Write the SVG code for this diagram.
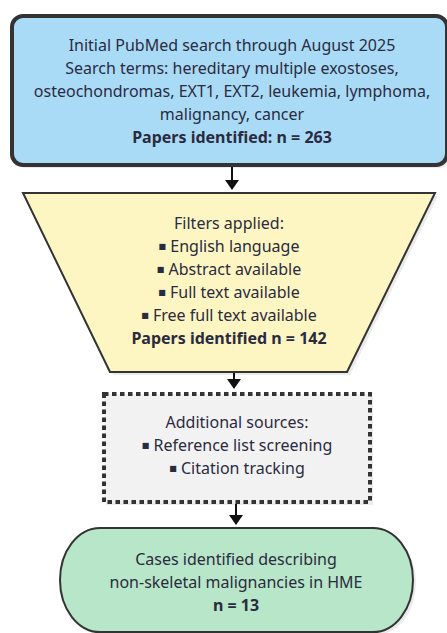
<svg xmlns="http://www.w3.org/2000/svg" width="447" height="633" viewBox="0 0 447 633">
  <defs>
    <style>
      text { font-family: "Noto Sans", "DejaVu Sans", sans-serif; font-size: 16px; fill: #2b2b3f; text-anchor: middle; }
      .b { font-weight: bold; }
      .bul { font-size: 8px; }
      .conn { stroke: #111; stroke-width: 2; fill: none; }
      .shadow { fill: #000; opacity: 0.08; }
    </style>
    <marker id="arr" viewBox="0 0 10 14" refX="9" refY="7" markerWidth="10" markerHeight="14" markerUnits="userSpaceOnUse" orient="auto">
      <path d="M0,0 L10,7 L0,14 z" fill="#111"/>
    </marker>
  </defs>
  <rect width="447" height="633" fill="#fff"/>

  <g id="node-search">
    <rect class="shadow" x="15" y="19" width="435" height="149" rx="11"/>
    <rect x="12" y="16" width="435" height="149" rx="11" fill="#a9dbf6" stroke="#333" stroke-width="4"/>
    <text x="232" y="51">Initial PubMed search through August 2025</text>
    <text x="232" y="74">Search terms: hereditary multiple exostoses,</text>
    <text x="232" y="97">osteochondromas, EXT1, EXT2, leukemia, lymphoma,</text>
    <text x="232" y="120">malignancy, cancer</text>
    <text x="232" y="143" class="b">Papers identified: n = 263</text>
  </g>

  <g id="node-filters">
    <polygon class="shadow" points="26,196 438,196 350,375 113,375"/>
    <polygon points="23,193 435,193 347,372 110,372" fill="#fdf6c3" stroke="#333" stroke-width="2"/>
    <text x="229" y="229">Filters applied:</text>
    <text x="229" y="252"><tspan class="bul" dy="-3">■</tspan><tspan dy="3"> English language</tspan></text>
    <text x="229" y="275"><tspan class="bul" dy="-3">■</tspan><tspan dy="3"> Abstract available</tspan></text>
    <text x="229" y="298"><tspan class="bul" dy="-3">■</tspan><tspan dy="3"> Full text available</tspan></text>
    <text x="229" y="321"><tspan class="bul" dy="-3">■</tspan><tspan dy="3"> Free full text available</tspan></text>
    <text x="229" y="344" class="b">Papers identified n = 142</text>
  </g>

  <g id="node-additional">
    <rect class="shadow" x="106" y="396" width="267" height="109"/>
    <rect x="104" y="394" width="266" height="108" fill="#f2f2f2" stroke="#333" stroke-width="4" stroke-dasharray="4.5 3.5"/>
    <text x="237" y="428">Additional sources:</text>
    <text x="237" y="451"><tspan class="bul" dy="-3">■</tspan><tspan dy="3"> Reference list screening</tspan></text>
    <text x="237" y="474"><tspan class="bul" dy="-3">■</tspan><tspan dy="3"> Citation tracking</tspan></text>
  </g>

  <g id="node-cases">
    <rect class="shadow" x="63" y="531" width="353" height="104" rx="40" ry="52"/>
    <rect x="60" y="528" width="353" height="104" rx="40" ry="52" fill="#b8e6c8" stroke="#333" stroke-width="2"/>
    <text x="236" y="565">Cases identified describing</text>
    <text x="236" y="588">non-skeletal malignancies in HME</text>
    <text x="236" y="611" class="b">n = 13</text>
  </g>

  <g id="connectors">
    <line class="conn" x1="232" y1="167" x2="232" y2="189" marker-end="url(#arr)"/>
    <line class="conn" x1="234" y1="373" x2="234" y2="388" marker-end="url(#arr)"/>
    <line class="conn" x1="236" y1="504" x2="236" y2="524" marker-end="url(#arr)"/>
  </g>
</svg>
